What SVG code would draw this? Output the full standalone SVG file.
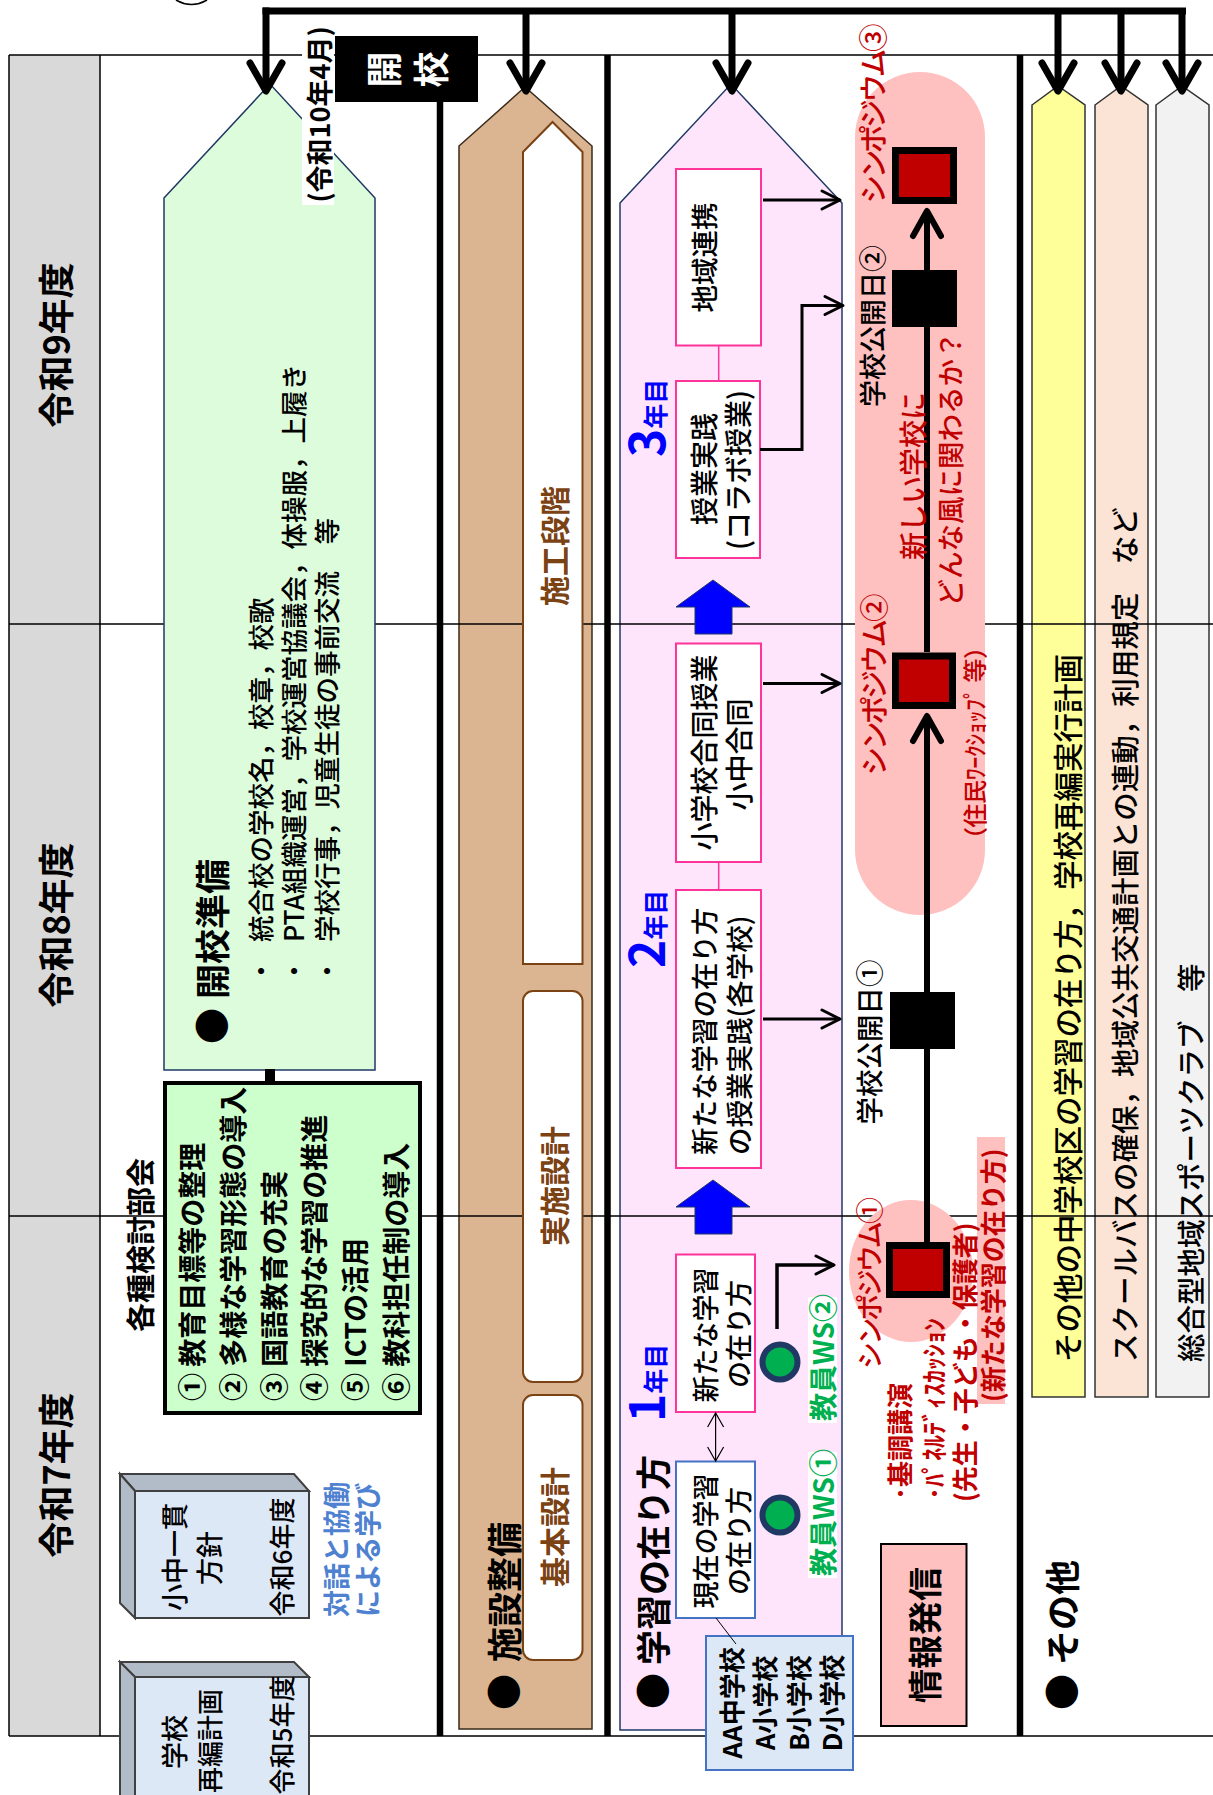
<svg xmlns="http://www.w3.org/2000/svg" width="1213" height="1795" viewBox="0 0 1213 1795">
<style>
.f{font-family:"Noto Sans CJK JP","Noto Sans",sans-serif;dominant-baseline:central}
.fa{font-family:"Noto Sans CJK JP","Noto Sans",sans-serif}
.b{font-weight:700}
.m{font-weight:500}
.c{text-anchor:middle}
.s{text-anchor:start}
.red{fill:#c00000}
.blue{fill:#0000ff}
.brn{fill:#7b4314}
.grid{stroke:#000;stroke-width:1.5;fill:none}
.thick{stroke:#000;stroke-width:6.5;fill:none}
.pbox{fill:#fff;stroke:#ff3399;stroke-width:2}
.wbox{fill:#fff;stroke:#7b4314;stroke-width:2}
.conn{stroke:#000;fill:none}
</style>
<defs>
<marker id="aBig" viewBox="-34 -20 40 40" refX="0" refY="0" markerWidth="40" markerHeight="40" markerUnits="userSpaceOnUse" orient="auto">
<path d="M-28,-16 L0,0 L-28,16" fill="none" stroke="#000" stroke-width="7" stroke-linejoin="round" stroke-linecap="round"/>
</marker>
<marker id="aMid" viewBox="-32 -20 38 40" refX="0" refY="0" markerWidth="38" markerHeight="40" markerUnits="userSpaceOnUse" orient="auto">
<path d="M-25,-14 L0,0 L-25,14" fill="none" stroke="#000" stroke-width="6" stroke-linejoin="round" stroke-linecap="round"/>
</marker>
<marker id="aSm" viewBox="-22 -12 26 24" refX="0" refY="0" markerWidth="26" markerHeight="24" markerUnits="userSpaceOnUse" orient="auto">
<path d="M-18,-9 L0,0 L-18,9" fill="none" stroke="#000" stroke-width="3" stroke-linejoin="round" stroke-linecap="round"/>
</marker>
<marker id="aThin" viewBox="-16 -10 18 20" refX="0" refY="0" markerWidth="18" markerHeight="20" markerUnits="userSpaceOnUse" orient="auto-start-reverse">
<path d="M-14,-8 L0,0 L-14,8" fill="none" stroke="#000" stroke-width="1.2"/>
</marker>
</defs>
<rect x="0" y="0" width="1213" height="1795" fill="#fff"/>

<g id="frame">
<rect x="9" y="55" width="91" height="1681" fill="#d9d9d9"/>
</g>

<g id="lanes">
<polygon id="lane-shisetsu" points="459,146 525,87 592,146 592,1729 459,1729" fill="#dbb592" stroke="#3a2a1a" stroke-width="1.5"/>
<polygon id="lane-gakushu" points="620,203 731,84 842,203 842,1730 620,1730" fill="#fee5fc" stroke="#1f3864" stroke-width="1.5"/>
<polygon id="lane-yellow" points="1032,105 1058,86 1085,105 1085,1397 1032,1397" fill="#ffff99" stroke="#333" stroke-width="1.5"/>
<polygon id="lane-peach" points="1095,105 1121,86 1148,105 1148,1397 1095,1397" fill="#fbe4d5" stroke="#333" stroke-width="1.5"/>
<polygon id="lane-gray" points="1156,105 1182,86 1209,105 1209,1397 1156,1397" fill="#f2f2f2" stroke="#333" stroke-width="1.5"/>
</g>

<g id="gridlines">
<path class="grid" d="M9,55 H1213 M9,1736 H1213 M9,55 V1736 M100,55 V1736 M9,624 H1213 M9,1216 H1213"/>
<path class="thick" d="M440,60 V1736 M607.5,55 V1736 M1020,55 V1736"/>
<path d="M176,0 Q191.5,9 207,0" fill="none" stroke="#000" stroke-width="1.5"/>
</g>

<g id="year-labels">
<text class="f b c" font-size="36" transform="translate(54 345) rotate(-90)">令和9年度</text>
<text class="f b c" font-size="36" transform="translate(54 925) rotate(-90)">令和8年度</text>
<text class="f b c" font-size="36" transform="translate(54 1475) rotate(-90)">令和7年度</text>
</g>

<g id="node-kaiko-junbi">
<polygon points="164,198 270,84 375,198 375,1070 164,1070" fill="#dcfcdc" stroke="#1f3864" stroke-width="1.5"/>
<text class="f b c" font-size="36" transform="translate(210 1026) rotate(-90)">●</text>
<text class="f b s" font-size="35" transform="translate(210 999) rotate(-90)">開校準備</text>
<text class="f m c" font-size="26.5" transform="translate(259 971) rotate(-90)">・</text>
<text class="f m c" font-size="26.5" transform="translate(292.5 971) rotate(-90)">・</text>
<text class="f m c" font-size="26.5" transform="translate(325.5 971) rotate(-90)">・</text>
<text class="f m s" font-size="26.5" transform="translate(259 942) rotate(-90)">統合校の学校名，校章，校歌</text>
<text class="f m s" font-size="26.5" transform="translate(292.5 942) rotate(-90)">PTA組織運営，学校運営協議会，体操服，上履き</text>
<text class="f m s" font-size="26.5" transform="translate(325.5 942) rotate(-90)">学校行事，児童生徒の事前交流　等</text>
</g>

<g id="node-kaiko">
<rect x="335" y="36" width="143" height="66" fill="#000"/>
<text class="f b c" font-size="36" fill="#fff" transform="translate(381.5 69.5) rotate(-90)">開</text>
<text class="f b c" font-size="36" fill="#fff" transform="translate(428.5 69.5) rotate(-90)">校</text>
</g>

<g id="node-kaiko-date">
<rect x="302" y="25" width="32" height="180" fill="#fff"/>
<text class="f b c" font-size="27" transform="translate(318 114.5) rotate(-90)">(令和10年4月)</text>
</g>

<g id="node-bukai">
<text class="f b c" font-size="29" transform="translate(139 1245) rotate(-90)">各種検討部会</text>
<rect x="165" y="1083" width="255" height="330" fill="#ccffcc" stroke="#000" stroke-width="4"/>
<text class="f b s" font-size="28" transform="translate(190.5 1401) rotate(-90)">① 教育目標等の整理</text>
<text class="f b s" font-size="28" transform="translate(231.5 1401) rotate(-90)">② 多様な学習形態の導入</text>
<text class="f b s" font-size="28" transform="translate(272.5 1401) rotate(-90)">③ 国語教育の充実</text>
<text class="f b s" font-size="28" transform="translate(313 1401) rotate(-90)">④ 探究的な学習の推進</text>
<text class="f b s" font-size="28" transform="translate(354 1401) rotate(-90)">⑤ ICTの活用</text>
<text class="f b s" font-size="28" transform="translate(395 1401) rotate(-90)">⑥ 教科担任制の導入</text>
</g>

<g id="node-shochu">
<polygon points="120,1474 294,1474 309,1491 135,1491" fill="#b2bcc8" stroke="#404040" stroke-width="2"/>
<polygon points="120,1474 135,1491 135,1618 120,1603" fill="#b2bcc8" stroke="#404040" stroke-width="2"/>
<rect x="135" y="1491" width="174" height="127" fill="#dde8f6" stroke="#404040" stroke-width="2"/>
<text class="f m c" font-size="27" transform="translate(173.5 1557) rotate(-90)">小中一貫</text>
<text class="f m c" font-size="27" transform="translate(208 1558) rotate(-90)">方針</text>
<text class="f m c" font-size="26" transform="translate(280 1557) rotate(-90)">令和6年度</text>
</g>

<g id="node-saihen">
<polygon points="120,1662 294,1662 309,1677 135,1677" fill="#b2bcc8" stroke="#404040" stroke-width="2"/>
<polygon points="120,1662 135,1677 135,1800 120,1800" fill="#b2bcc8" stroke="#404040" stroke-width="2"/>
<rect x="135" y="1677" width="174" height="125" fill="#dde8f6" stroke="#404040" stroke-width="2"/>
<text class="f m c" font-size="27" transform="translate(173.5 1742) rotate(-90)">学校</text>
<text class="f m c" font-size="26" transform="translate(208 1741) rotate(-90)">再編計画</text>
<text class="f m c" font-size="26" transform="translate(280 1735) rotate(-90)">令和5年度</text>
</g>

<g id="node-taiwa">
<text class="f b s" font-size="27" fill="#4f81d1" transform="translate(335 1617) rotate(-90)">対話と協働</text>
<text class="f b s" font-size="27" fill="#4f81d1" transform="translate(366 1617) rotate(-90)">による学び</text>
</g>

<g id="node-shisetsu">
<text class="f b c" font-size="36" transform="translate(502 1692) rotate(-90)">●</text>
<text class="f b s" font-size="35" transform="translate(502 1662) rotate(-90)">施設整備</text>
<polygon class="wbox" points="523,152 552.5,122 582.5,152 582.5,964 523,964"/>
<rect class="wbox" x="523" y="991" width="59.5" height="391" rx="10"/>
<rect class="wbox" x="523" y="1395" width="59.5" height="265" rx="10"/>
<text class="f b c brn" font-size="30" transform="translate(552.5 546) rotate(-90)">施工段階</text>
<text class="f b c brn" font-size="30" transform="translate(552.5 1186) rotate(-90)">実施設計</text>
<text class="f b c brn" font-size="30" transform="translate(552.5 1527) rotate(-90)">基本設計</text>
</g>

<g id="node-gakushu-title">
<text class="f b c" font-size="36" transform="translate(651 1691) rotate(-90)">●</text>
<text class="f b s" font-size="35" transform="translate(651 1665) rotate(-90)">学習の在り方</text>
<text class="fa b s blue" transform="translate(665 1422) rotate(-90)"><tspan font-size="48">1</tspan><tspan font-size="25">年目</tspan></text>
<text class="fa b s blue" transform="translate(665 968) rotate(-90)"><tspan font-size="48">2</tspan><tspan font-size="25">年目</tspan></text>
<text class="fa b s blue" transform="translate(665 457) rotate(-90)"><tspan font-size="48">3</tspan><tspan font-size="25">年目</tspan></text>
</g>

<g id="node-chiiki">
<rect class="pbox" x="676" y="169" width="85" height="176.5"/>
<text class="f m c" font-size="27.5" transform="translate(703 257.5) rotate(-90)">地域連携</text>
</g>
<g id="node-collabo">
<rect class="pbox" x="676" y="381" width="84" height="177"/>
<text class="f m c" font-size="28" transform="translate(703 469) rotate(-90)">授業実践</text>
<text class="f m c" font-size="28" transform="translate(737 470) rotate(-90)">(コラボ授業)</text>
</g>
<g id="node-godo">
<rect class="pbox" x="676" y="643.5" width="85" height="218.5"/>
<text class="f m c" font-size="28" transform="translate(703 752.5) rotate(-90)">小学校合同授業</text>
<text class="f m c" font-size="28" transform="translate(738 754.5) rotate(-90)">小中合同</text>
</g>
<g id="node-jissen">
<rect class="pbox" x="676" y="890" width="85" height="278"/>
<text class="f m s" font-size="27.5" transform="translate(703 1155) rotate(-90)">新たな学習の在り方</text>
<text class="f m s" font-size="27.5" transform="translate(738 1155) rotate(-90)">の授業実践(各学校)</text>
</g>
<g id="node-aratana">
<rect class="pbox" x="676" y="1254.5" width="79" height="157.5"/>
<text class="f m c" font-size="27" transform="translate(704 1335) rotate(-90)">新たな学習</text>
<text class="f m c" font-size="27" transform="translate(737 1334) rotate(-90)">の在り方</text>
</g>
<g id="node-genzai">
<rect x="676" y="1461.5" width="79" height="156.5" fill="#fff" stroke="#4472c4" stroke-width="2"/>
<text class="f m c" font-size="27" transform="translate(704 1541) rotate(-90)">現在の学習</text>
<text class="f m c" font-size="27" transform="translate(737 1541) rotate(-90)">の在り方</text>
</g>

<g id="node-ws2">
<circle cx="780" cy="1362" r="17.5" fill="#00b050" stroke="#1f3864" stroke-width="6"/>
<rect x="808" y="1297" width="29" height="126" fill="#fff"/>
<text class="f b s" font-size="28" fill="#00b050" transform="translate(822 1421) rotate(-90)">教員WS②</text>
</g>
<g id="node-ws1">
<circle cx="780" cy="1515" r="17.5" fill="#00b050" stroke="#1f3864" stroke-width="6"/>
<rect x="808" y="1452" width="29" height="126" fill="#fff"/>
<text class="f b s" font-size="28" fill="#00b050" transform="translate(822 1576) rotate(-90)">教員WS①</text>
</g>

<g id="node-school-list">
<rect x="706" y="1636" width="147" height="134" fill="#dde8f6" stroke="#4472c4" stroke-width="2"/>
<text class="f b c" font-size="26" transform="translate(730 1703) rotate(-90)">AA中学校</text>
<text class="f b c" font-size="26" transform="translate(763 1703) rotate(-90)">A小学校</text>
<text class="f b c" font-size="26" transform="translate(797 1703) rotate(-90)">B小学校</text>
<text class="f b c" font-size="26" transform="translate(830 1703) rotate(-90)">D小学校</text>
</g>

<g id="sympo-bg">
<rect x="855" y="72" width="130" height="843" rx="65" fill="#ffc0c0"/>
<ellipse cx="911" cy="1271" rx="62" ry="71" fill="#ffc0c0"/>
<rect x="977" y="1137" width="28" height="267" fill="#ffc0c0"/>
</g>

<g id="node-johohasshin">
<rect x="881" y="1544" width="85.5" height="182" fill="#ffc0c0" stroke="#000" stroke-width="2"/>
<text class="f b c" font-size="34" transform="translate(923.5 1635) rotate(-90)">情報発信</text>
</g>

<g id="node-others">
<text class="f b c" font-size="36" transform="translate(1060 1692) rotate(-90)">●</text>
<text class="f b s" font-size="35" transform="translate(1060 1665) rotate(-90)">その他</text>
<text class="f m s" font-size="29.5" transform="translate(1066 1362) rotate(-90)">その他の中学校区の学習の在り方，学校再編実行計画</text>
<text class="f m s" font-size="28.5" transform="translate(1123 1362) rotate(-90)">スクールバスの確保，地域公共交通計画との連動，利用規定　など</text>
<text class="f m s" font-size="28.5" transform="translate(1189 1362) rotate(-90)">総合型地域スポーツクラブ　等</text>
</g>

<g id="connectors">
<path d="M262.5,11 H1186" fill="none" stroke="#000" stroke-width="7"/>
<path class="conn" stroke-width="7" d="M266,7.5 V91" marker-end="url(#aBig)"/>
<path class="conn" stroke-width="7" d="M526,11 V91" marker-end="url(#aBig)"/>
<path class="conn" stroke-width="7" d="M732,11 V91" marker-end="url(#aBig)"/>
<path class="conn" stroke-width="7" d="M1058,11 V91" marker-end="url(#aBig)"/>
<path class="conn" stroke-width="7" d="M1121,11 V91" marker-end="url(#aBig)"/>
<path class="conn" stroke-width="7" d="M1182,11 V91" marker-end="url(#aBig)"/>
<path d="M270,1069 V1083" stroke="#000" stroke-width="10"/>
<path d="M718.7,345.5 V381 M718.7,862 V890" stroke="#ff3399" stroke-width="1.5"/>
<path class="conn" stroke-width="3" d="M763,200 H840" marker-end="url(#aSm)"/>
<path class="conn" stroke-width="3" d="M760,449.5 H802 V305.5 H843" marker-end="url(#aSm)"/>
<path class="conn" stroke-width="3" d="M763,683.5 H840" marker-end="url(#aSm)"/>
<path class="conn" stroke-width="3" d="M763,1019 H840" marker-end="url(#aSm)"/>
<path class="conn" stroke-width="3.5" d="M777,1329 V1265 H834" marker-end="url(#aSm)"/>
<path class="conn" stroke-width="1.2" d="M715.6,1413 V1461" marker-start="url(#aThin)" marker-end="url(#aThin)"/>
<path class="conn" stroke-width="1" d="M716,1618 L736,1644"/>
<polygon points="713,580 750,607 732,607 732,634 695,634 695,607 676,607" fill="#0000ff" stroke="#1f3864" stroke-width="1"/>
<polygon points="713,1180 750,1207 732,1207 732,1234 695,1234 695,1207 676,1207" fill="#0000ff" stroke="#1f3864" stroke-width="1"/>
<path class="conn" stroke-width="6" d="M927,1242 V716" marker-end="url(#aMid)"/>
<path class="conn" stroke-width="6" d="M927,652 V211" marker-end="url(#aMid)"/>
</g>

<g id="node-sympo3">
<rect x="895.5" y="150.5" width="58" height="50" fill="#c00000" stroke="#000" stroke-width="7"/>
<text class="f m c red" font-size="28.5" textLength="180" lengthAdjust="spacing" transform="translate(871 113.5) rotate(-90)">シンポジウム③</text>
</g>
<g id="node-kokai2">
<rect x="892" y="270" width="65" height="57" fill="#000"/>
<text class="f m c" font-size="27" transform="translate(871 326) rotate(-90)">学校公開日②</text>
</g>
<g id="node-question">
<text class="f m c red" font-size="28" transform="translate(911.5 476) rotate(-90)">新しい学校に</text>
<text class="f m c red" font-size="27.5" transform="translate(948.5 469) rotate(-90)">どんな風に関わるか？</text>
</g>
<g id="node-sympo2">
<rect x="895.5" y="656" width="57" height="49.5" fill="#c00000" stroke="#000" stroke-width="7"/>
<text class="f m c red" font-size="28.5" textLength="182" lengthAdjust="spacing" transform="translate(872 684.5) rotate(-90)">シンポジウム②</text>
<text class="f m c red" font-size="24" textLength="216" lengthAdjust="spacing" transform="translate(973.5 743) rotate(-90)">（住民ﾜｰｸｼｮｯﾌﾟ 等）</text>
</g>
<g id="node-kokai1">
<rect x="890" y="992" width="65" height="57" fill="#000"/>
<text class="f m c" font-size="27.5" transform="translate(868 1042) rotate(-90)">学校公開日①</text>
</g>
<g id="node-sympo1">
<rect x="889.5" y="1245.5" width="57" height="49" fill="#c00000" stroke="#000" stroke-width="7"/>
<text class="f m c red" font-size="27" textLength="172" lengthAdjust="spacing" transform="translate(868.5 1283) rotate(-90)">シンポジウム①</text>
<text class="f b s red" font-size="26" transform="translate(898 1500) rotate(-90)">･基調講演</text>
<text class="f b s red" font-size="26" transform="translate(932 1500) rotate(-90)">･ﾊﾟﾈﾙﾃﾞｨｽｶｯｼｮﾝ</text>
<text class="f b s red" font-size="26" transform="translate(963 1502) rotate(-90)">(先生・子ども・保護者)</text>
<text class="f b s red" font-size="26" transform="translate(991 1402) rotate(-90)">(新たな学習の在り方)</text>
</g>
</svg>
